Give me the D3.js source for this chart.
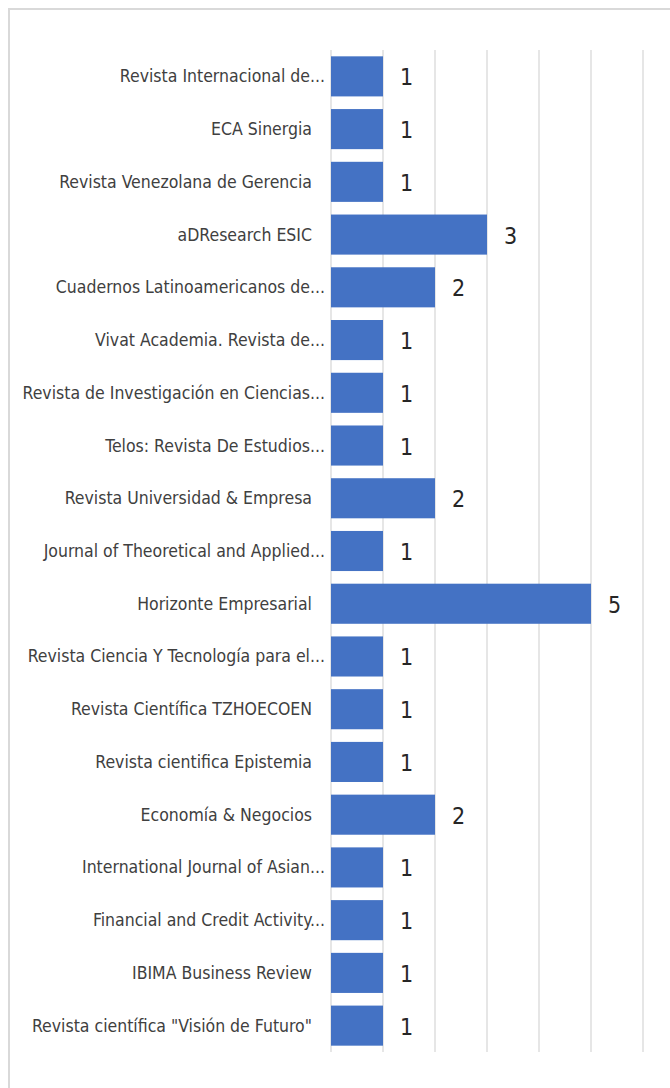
<!DOCTYPE html>
<html><head><meta charset="utf-8">
<script src="https://cdn.jsdelivr.net/npm/d3@7"></script>
<style>
html,body{margin:0;padding:0;background:#fff;}
svg{display:block;}
</style></head>
<body>
<svg id="chart" width="670" height="1088"></svg>
<script>
const categories = [
  "Revista Internacional de...",
  "ECA Sinergia ",
  "Revista Venezolana de Gerencia ",
  "aDResearch ESIC ",
  "Cuadernos Latinoamericanos de...",
  "Vivat Academia. Revista de...",
  "Revista de Investigación en Ciencias...",
  "Telos: Revista De Estudios...",
  "Revista Universidad & Empresa ",
  "Journal of Theoretical and Applied...",
  "Horizonte Empresarial ",
  "Revista Ciencia Y Tecnología para el...",
  "Revista Científica TZHOECOEN ",
  "Revista cientifica Epistemia ",
  "Economía & Negocios ",
  "International Journal of Asian...",
  "Financial and Credit Activity...",
  "IBIMA Business Review ",
  "Revista científica \"Visión de Futuro\" "
];
const values = [1,1,1,3,2,1,1,1,2,1,5,1,1,1,2,1,1,1,1];
const xTicks = [0,1,2,3,4,5,6];

const svg = d3.select("#chart");
svg.append("rect").attr("x",9).attr("y",9).attr("width",720).attr("height",1120)
  .attr("fill","#fff").attr("stroke","#d9d9d9").attr("stroke-width",2);

const x = d3.scaleLinear().domain([0,6]).range([331,643]);
const y = d3.scaleBand().domain(categories).range([50,1052]).paddingInner(0.24).paddingOuter(0.12);

// gridlines
svg.append("g").selectAll("line").data(xTicks).join("line")
  .attr("x1",d=>x(d)).attr("x2",d=>x(d)).attr("y1",50).attr("y2",1052)
  .attr("stroke","#d9d9d9").attr("stroke-width",1.3);

// bars
svg.append("g").selectAll("rect").data(values).join("rect")
  .attr("x",x(0)).attr("y",(d,i)=>y(categories[i]))
  .attr("width",d=>x(d)-x(0)).attr("height",y.bandwidth())
  .attr("fill","#4472C4");

// category labels (trailing space in the source names -> extra gap)
svg.append("g").selectAll("text").data(categories).join("text")
  .attr("x",d=>x(0) - (d.endsWith(" ") ? 19 : 6))
  .attr("y",d=>y(d)+y.bandwidth()/2)
  .attr("text-anchor","end").attr("dominant-baseline","central")
  .attr("font-family","'DejaVu Sans Condensed',sans-serif")
  .attr("font-size",17.5).attr("fill","#404040")
  .text(d=>d.trim());

// value labels
svg.append("g").selectAll("text").data(values).join("text")
  .attr("x",d=>x(d)+17).attr("y",(d,i)=>y(categories[i])+y.bandwidth()/2+1)
  .attr("dominant-baseline","central")
  .attr("font-family","'DejaVu Sans Condensed',sans-serif")
  .attr("font-size",23).attr("fill","#262626")
  .text(d=>d);
</script>
</body></html>
